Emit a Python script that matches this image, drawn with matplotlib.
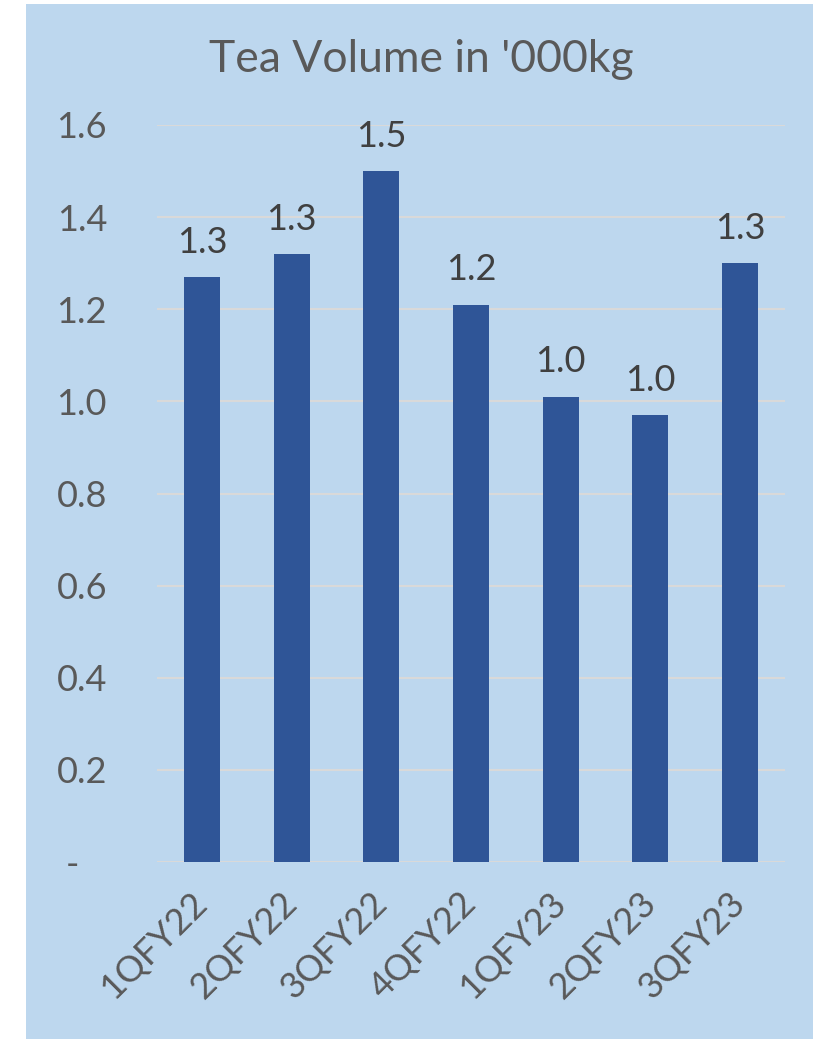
import matplotlib.pyplot as plt
from matplotlib.patches import Rectangle

# quarterly tea volume ('000 kg)
quarters = ["1QFY22", "2QFY22", "3QFY22", "4QFY22", "1QFY23", "2QFY23", "3QFY23"]
volume = [1.27, 1.32, 1.50, 1.21, 1.01, 0.97, 1.30]

y_ticks = [0, 0.2, 0.4, 0.6, 0.8, 1.0, 1.2, 1.4, 1.6]
y_tick_labels = ["-   ", "0.2", "0.4", "0.6", "0.8", "1.0", "1.2", "1.4", "1.6"]

plt.rcParams['font.family'] = ['Lato', 'DejaVu Sans']

fig = plt.figure(figsize=(8.13, 10.39), dpi=100)
fig.patch.set_facecolor("white")

# light blue chart panel
panel = Rectangle((26 / 813, 0), 1 - 26 / 813, 1 - 4 / 1039,
                  transform=fig.transFigure, facecolor="#BDD7EE",
                  edgecolor="none", zorder=-10)
fig.add_artist(panel)

ax = fig.add_axes([157 / 813, 1 - 862 / 1039, 628 / 813, (862 - 125) / 1039])
ax.set_facecolor("none")

x = range(len(quarters))
bars = ax.bar(x, volume, width=0.4, color="#2F5597", zorder=3)

for rect, v in zip(bars, volume):
    ax.text(rect.get_x() + rect.get_width() / 2, v + 0.04, f"{v:.1f}",
            ha="center", va="bottom", fontsize=26, color="#404040")

ax.set_xlim(-0.5, len(quarters) - 0.5)
ax.set_ylim(0, 1.6)
ax.set_yticks(y_ticks)
ax.set_yticklabels(y_tick_labels)
ax.set_xticks(list(x))
ax.set_xticklabels(quarters, rotation=45, ha="right", va="center",
                   rotation_mode="anchor")

ax.tick_params(axis="both", length=0, labelsize=26, colors="#595959")
ax.tick_params(axis="y", pad=36)
ax.tick_params(axis="x", pad=26)
ax.grid(axis="y", color="#D9D9D9", linewidth=1.5, zorder=0)
for s in ax.spines.values():
    s.set_visible(False)

fig.text(0.518, 1 - 72 / 1039, "Tea Volume in '000kg", ha="center",
         va="baseline", fontsize=32, color="#595959")

fig.savefig("out.png", dpi=100)
